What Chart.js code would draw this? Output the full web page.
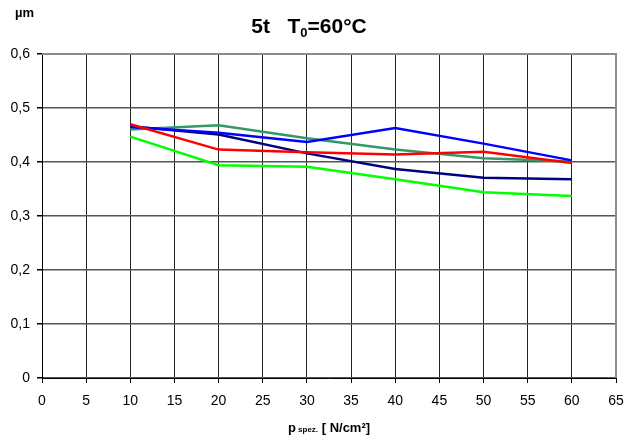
<!DOCTYPE html>
<html lang="de">
<head>
    <meta charset="UTF-8">
    <title>5t T0=60°C</title>
    <script src="https://cdn.jsdelivr.net/npm/chart.js"></script>
    <style>
        body { margin: 0; background: #fff; }
        #wrap { width: 628px; height: 441px; }
    </style>
</head>
<body>
    <div id="wrap"><canvas id="chart" width="628" height="441"></canvas></div>

    <script>
        // data
        const pressure = [10, 20, 30, 40, 50, 60];
        const redVals   = [0.470, 0.423, 0.418, 0.414, 0.419, 0.398];
        const blueVals  = [0.465, 0.454, 0.437, 0.463, 0.434, 0.403];
        const navyVals  = [0.466, 0.451, 0.416, 0.387, 0.371, 0.368];
        const tealVals  = [0.460, 0.468, 0.444, 0.423, 0.407, 0.401];
        const greenVals = [0.447, 0.394, 0.391, 0.368, 0.344, 0.337];
        const xTicks = [0, 5, 10, 15, 20, 25, 30, 35, 40, 45, 50, 55, 60, 65];
        const yTicks = [0, 0.1, 0.2, 0.3, 0.4, 0.5, 0.6];

        const FONT = "'Liberation Sans', Arial, sans-serif";

        function pts(vals) {
            return vals.map((v, i) => ({ x: pressure[i], y: v }));
        }
        function series(vals, color) {
            return { data: pts(vals), borderColor: color, backgroundColor: color,
                     borderWidth: 2.5, pointRadius: 0, tension: 0, fill: false };
        }

        // draws pieces of text one after another, centred on cx
        function drawParts(c, parts, cx, y) {
            let w = 0;
            parts.forEach(p => { c.font = p[1] + FONT; w += c.measureText(p[0]).width; });
            let x = cx - w / 2;
            parts.forEach(p => {
                c.font = p[1] + FONT;
                c.fillText(p[0], x, y + p[2]);
                x += c.measureText(p[0]).width;
            });
        }

        const labelsPlugin = {
            id: 'labels',
            afterDraw(chart) {
                const c = chart.ctx;
                const a = chart.chartArea;
                c.save();
                c.fillStyle = '#000';
                c.textBaseline = 'alphabetic';
                c.textAlign = 'left';

                c.font = 'bold 13px ' + FONT;
                c.fillText('µm', 15, 17);

                drawParts(c, [
                    ['5t   T', 'bold 21px ', 0],
                    ['0', 'bold 13px ', 4],
                    ['=60°C', 'bold 21px ', 0]
                ], 309, 33);

                drawParts(c, [
                    ['p', 'bold 13px ', 0],
                    [' spez.', 'bold 8px ', 0],
                    [' [ N/cm²]', 'bold 13px ', 0]
                ], (a.left + a.right) / 2, 432);

                // grey frame top/right
                c.strokeStyle = '#8c8c8c';
                c.lineWidth = 2;
                c.beginPath();
                c.moveTo(a.left, a.top);
                c.lineTo(a.right, a.top);
                c.lineTo(a.right, a.bottom);
                c.stroke();
                c.restore();
            }
        };

        new Chart(document.getElementById('chart'), {
            type: 'line',
            data: {
                datasets: [
                    series(redVals, '#ff0000'),
                    series(blueVals, '#0000ff'),
                    series(navyVals, '#000080'),
                    series(tealVals, '#339966'),
                    series(greenVals, '#00ff00')
                ]
            },
            options: {
                responsive: false,
                animation: false,
                layout: { padding: { top: 54, right: 12, left: 0, bottom: 0 } },
                plugins: { legend: { display: false }, title: { display: false }, tooltip: { enabled: false } },
                scales: {
                    x: {
                        type: 'linear',
                        min: 0, max: 65,
                        afterBuildTicks: s => { s.ticks = xTicks.map(v => ({ value: v })); },
                        afterFit: s => { s.height = 63; s.paddingLeft = 0; s.paddingRight = 0; },
                        ticks: { color: '#000', font: { family: FONT, size: 14 }, padding: 10, maxRotation: 0 },
                        grid: { color: '#222', lineWidth: 1, tickLength: 5, tickColor: '#000' },
                        border: { color: '#000', width: 1 }
                    },
                    y: {
                        min: 0, max: 0.6,
                        afterBuildTicks: s => { s.ticks = yTicks.map(v => ({ value: v })); },
                        afterFit: s => { s.width = 42; s.paddingTop = 0; s.paddingBottom = 0; },
                        ticks: {
                            color: '#000', font: { family: FONT, size: 14 }, padding: 7,
                            callback: v => v === 0 ? '0' : v.toFixed(1).replace('.', ',')
                        },
                        grid: { color: '#555', lineWidth: 1.5, tickLength: 5, tickColor: '#000' },
                        border: { color: '#000', width: 1 }
                    }
                }
            },
            plugins: [labelsPlugin]
        });
    </script>
</body>
</html>
